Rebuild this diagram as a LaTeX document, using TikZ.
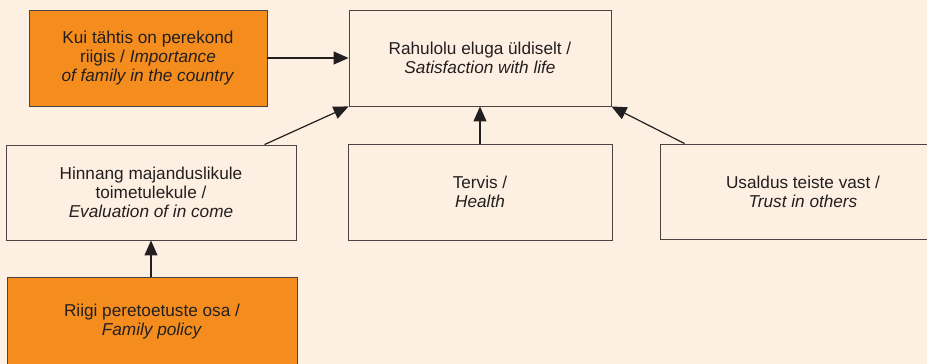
\documentclass[tikz,border=0pt]{standalone}
\usepackage{fontspec}
\setmainfont{Liberation Sans}
\usetikzlibrary{arrows.meta,calc}
\definecolor{bgc}{HTML}{FDF0E2}
\definecolor{orangec}{HTML}{F48D1E}
\definecolor{edgec}{HTML}{4A4444}
\definecolor{txtc}{HTML}{231F20}
\tikzset{
  box/.style={draw=edgec, line width=0.9pt, inner sep=0pt, align=center,
    text=txtc, font=\fontsize{17.2}{19}\selectfont},
  plainbox/.style={box, fill=bgc},
  orangebox/.style={box, fill=orangec},
  conn/.style={draw=txtc, line width=1.2pt, -{Triangle[length=15pt,width=13pt]}}
}
\begin{document}
\begin{tikzpicture}[x=1pt,y=-1pt]
\useasboundingbox (0,0) rectangle (927,364);
\clip (0,0) rectangle (927,364);
\fill[bgc] (0,0) rectangle (927,364);
\node[orangebox, minimum width=238pt, minimum height=96pt] (A) at (148,58)
  {Kui tähtis on perekond\\riigis / \textit{Importance}\\\textit{of family in the country}};
\node[plainbox, minimum width=262pt, minimum height=96pt] (S) at (480,58)
  {Rahulolu eluga üldiselt /\\\textit{Satisfaction with life}};
\node[plainbox, minimum width=290pt, minimum height=95pt] (E) at (151,192.5)
  {Hinnang majanduslikule\\toimetulekule /\\\textit{Evaluation of in come}};
\node[plainbox, minimum width=264pt, minimum height=96pt] (T) at (480,192)
  {Tervis /\\\textit{Health}};
\node[plainbox, minimum width=286pt, minimum height=95pt] (U) at (803,191.5)
  {Usaldus teiste vast /\\\textit{Trust in others}};
\node[orangebox, minimum width=290pt, minimum height=90pt] (F) at (152,322)
  {Riigi peretoetuste osa /\\\textit{Family policy}};
\coordinate (Eout) at ($(E.north west)+(259,0)$);
\coordinate (Uout) at ($(U.north west)+(25,0)$);
\draw[conn] (A.east) -- (S.west |- A.east);
\draw[conn] (Eout) -- (S.south west);
\draw[conn] (T.north) -- (S.south);
\draw[conn] (Uout) -- (S.south east);
\draw[conn] (F.north -| E.south) -- (E.south);
\end{tikzpicture}
\end{document}
